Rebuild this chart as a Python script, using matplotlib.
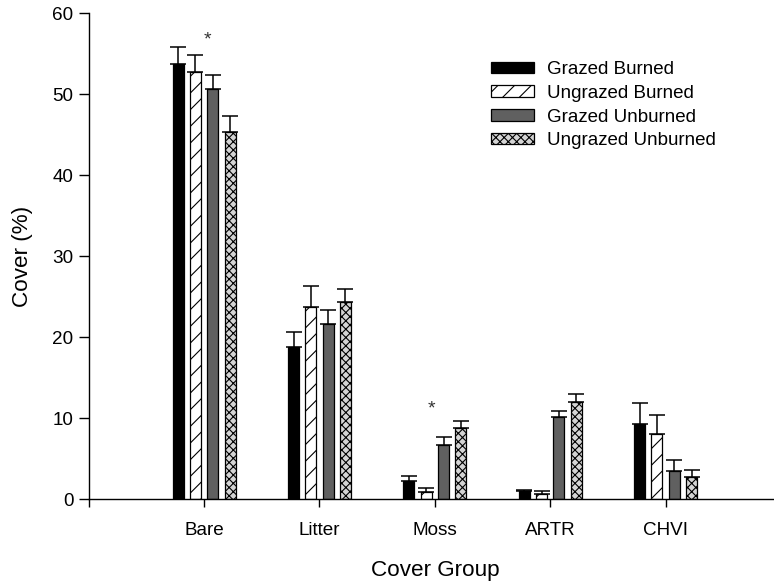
import matplotlib
matplotlib.use("Agg")
import matplotlib.pyplot as plt
import numpy as np

plt.rcParams['font.family'] = ['Liberation Sans', 'DejaVu Sans']
plt.rcParams['hatch.linewidth'] = 0.8

groups = ["Bare", "Litter", "Moss", "ARTR", "CHVI"]
series = ["Grazed Burned", "Ungrazed Burned", "Grazed Unburned", "Ungrazed Unburned"]
grazed_burned = [53.7, 18.8, 2.3, 1.0, 9.3]
grazed_burned_se = [2.1, 1.9, 0.6, 0.2, 2.6]
ungrazed_burned = [52.8, 23.8, 0.9, 0.7, 8.0]
ungrazed_burned_se = [2.0, 2.5, 0.5, 0.3, 2.4]
grazed_unburned = [50.6, 21.7, 6.7, 10.1, 3.5]
grazed_unburned_se = [1.8, 1.7, 1.0, 0.8, 1.3]
ungrazed_unburned = [45.3, 24.4, 8.8, 12.0, 2.8]
ungrazed_unburned_se = [2.0, 1.6, 0.9, 1.0, 0.8]
sig_groups = ["Bare", "Moss"]
sig_heights = [56.7, 11.1]

values = [grazed_burned, ungrazed_burned, grazed_unburned, ungrazed_unburned]
errors = [grazed_burned_se, ungrazed_burned_se, grazed_unburned_se, ungrazed_unburned_se]
styles = [
    dict(facecolor="black", hatch=None),
    dict(facecolor="white", hatch="//"),
    dict(facecolor="#606060", hatch=None),
    dict(facecolor="#d4d4d4", hatch="xxxx"),
]

fig = plt.figure(figsize=(7.74, 5.81), dpi=100)
ax = fig.add_axes([88.7/774, 1-499.3/581, (781-88.7)/774, (499.3-13.3)/581])

x = np.arange(1, len(groups)+1)
pitch = 0.15
width = 0.095
handles = []
for i, (v, e, st) in enumerate(zip(values, errors, styles)):
    pos = x + (i-1.5)*pitch
    b = ax.bar(pos, v, width, facecolor=st["facecolor"], edgecolor="black",
               linewidth=0.9, hatch=st["hatch"], label=series[i], zorder=2)
    ax.errorbar(pos, v, yerr=[np.zeros(len(v)), e], fmt="none", ecolor="black",
                elinewidth=1.1, capsize=5.5, capthick=1.1, zorder=1)
    handles.append(b)

for g, h in zip(sig_groups, sig_heights):
    gi = groups.index(g) + 1
    off = 0.03 if g == "Bare" else -0.03
    ax.text(gi + off, h, "*", ha="center", va="center", fontsize=14, color="#333333")

ax.set_xlim(0, 6)
ax.set_ylim(0, 60)
ax.set_xticks([0] + list(x))
ax.set_xticklabels([""] + groups, fontsize=13.6)
ax.set_yticks([0, 10, 20, 30, 40, 50, 60])
ax.tick_params(axis="y", labelsize=13.6, length=7, width=1, direction="out", pad=4)
ax.tick_params(axis="x", length=6, width=1, direction="out", pad=10)
for s in ["top", "right"]:
    ax.spines[s].set_visible(False)
ax.spines["left"].set_linewidth(1)
ax.spines["bottom"].set_linewidth(1)
ax.set_xlabel("Cover Group", fontsize=16.2, va="top")
ax.xaxis.set_label_coords(0.5, -0.124)
ax.set_ylabel("Cover (%)", fontsize=16.2, labelpad=14)

leg = fig.legend(handles=handles, labels=series, loc="upper left",
                 bbox_to_anchor=(491/774, 1-61/581), frameon=False,
                 fontsize=13.5, handlelength=2.3, handleheight=0.55,
                 handletextpad=0.7, labelspacing=0.36, borderpad=0,
                 borderaxespad=0)

fig.savefig("out.png", dpi=100)
